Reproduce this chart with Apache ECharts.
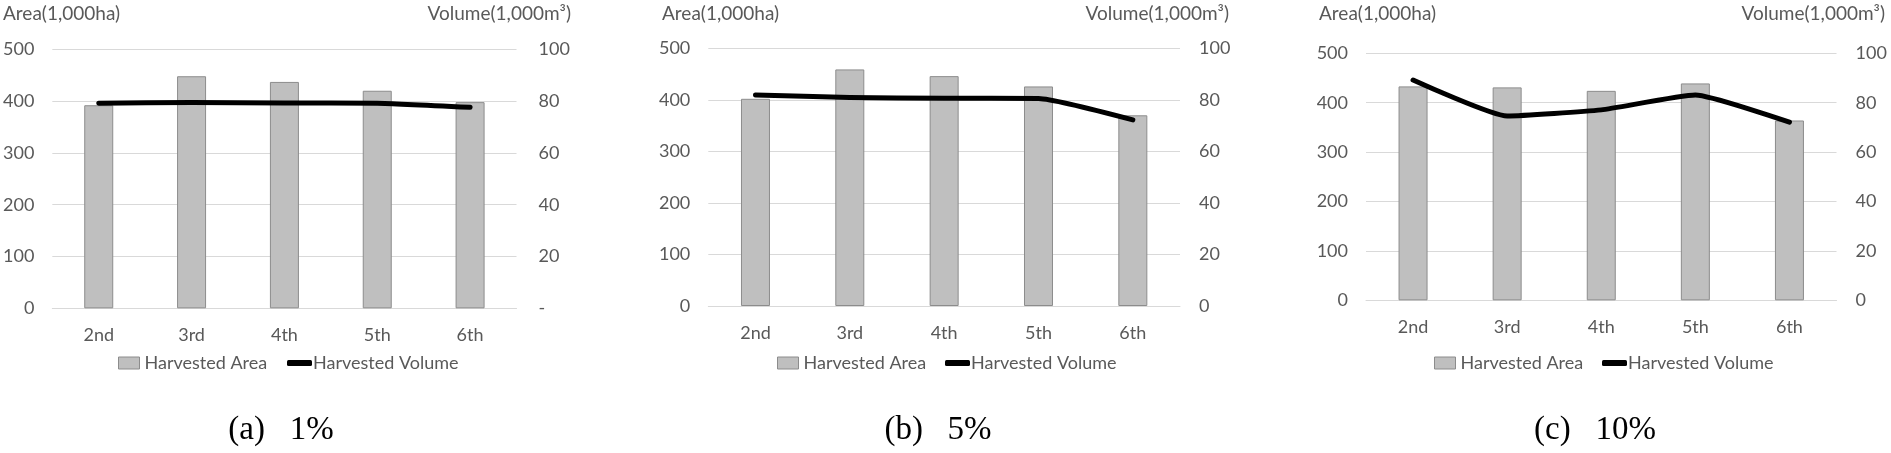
<!DOCTYPE html>
<html lang="en">
<head>
    <meta charset="UTF-8">
    <script src="https://cdn.jsdelivr.net/npm/echarts@6/dist/echarts.min.js"></script>
    <style>
        html, body { margin: 0; padding: 0; background: #fff; }
        #pic { width: 1891px; height: 453px; }
    </style>
    <title>Harvested area and volume</title>
</head>
<body>
<div id="pic"></div>
<script type="text/javascript">
    var categories = ['2nd', '3rd', '4th', '5th', '6th'];
    var areaTicks = [0, 100, 200, 300, 400, 500];
    var volumeTicks = [0, 20, 40, 60, 80, 100];

    // (a) 1%
    var areaA = [392, 448, 437, 420, 398];
    var volumeA = [79.2, 79.5, 79.3, 79.2, 77.6];
    // (b) 5%
    var areaB = [402, 459, 446, 426, 370];
    var volumeB = [81.9, 80.9, 80.6, 80.5, 72.2];
    // (c) 10%
    var areaC = [433, 431, 424, 439, 364];
    var volumeC = [89.2, 74.6, 77.1, 83.1, 72.1];

    var captions = ['(a)   1%', '(b)   5%', '(c)   10%'];
    var areaName = 'Area(1,000ha)';
    var volumeName = 'Volume(1,000m\u00b3)';
    var barName = 'Harvested Area';
    var lineName = 'Harvested Volume';

    var areas = [areaA, areaB, areaC];
    var volumes = [volumeA, volumeB, volumeC];

    // grid boxes
    var boxes = [
        {left: 51.5, top: 49.3, width: 465, height: 259, rightMargin: 22, areaX: 3, volRight: 571, legendX: 118, lineLegendX: 287, capX: 281},
        {left: 708.3, top: 48.3, width: 471.7, height: 257.7, rightMargin: 19, areaX: 662, volRight: 1229, legendX: 777, lineLegendX: 945, capX: 938},
        {left: 1366, top: 53.3, width: 470.5, height: 247, rightMargin: 19, areaX: 1319, volRight: 1885, legendX: 1434, lineLegendX: 1602, capX: 1595}
    ];

    var W = 1891;
    var txtColor = '#595959';
    var font = 'Lato';

    var grid = [], xAxis = [], yAxis = [], series = [], title = [], legend = [];

    boxes.forEach(function (b, i) {
        grid.push({left: b.left, top: b.top, width: b.width, height: b.height});
        xAxis.push({
            type: 'category',
            gridIndex: i,
            data: categories,
            axisLine: {lineStyle: {color: '#d9d9d9', width: 1}},
            axisTick: {show: false},
            axisLabel: {color: txtColor, fontFamily: font, fontSize: 18, margin: 18}
        });
        yAxis.push({
            type: 'value',
            gridIndex: i,
            min: areaTicks[0],
            max: areaTicks[areaTicks.length - 1],
            interval: areaTicks[1] - areaTicks[0],
            axisLine: {show: false},
            axisTick: {show: false},
            splitLine: {lineStyle: {color: '#d9d9d9', width: 1}},
            axisLabel: {color: txtColor, fontFamily: font, fontSize: 18, margin: 18}
        });
        yAxis.push({
            type: 'value',
            gridIndex: i,
            position: 'right',
            min: volumeTicks[0],
            max: volumeTicks[volumeTicks.length - 1],
            interval: volumeTicks[1] - volumeTicks[0],
            axisLine: {show: false},
            axisTick: {show: false},
            splitLine: {show: false},
            axisLabel: {
                color: txtColor, fontFamily: font, fontSize: 18, margin: b.rightMargin,
                formatter: function (v) {
                    if (i === 0 && v === 0) return '-';
                    return v;
                }
            }
        });
        series.push({
            name: barName,
            type: 'bar',
            xAxisIndex: i,
            yAxisIndex: i * 2,
            barWidth: 29,
            data: areas[i],
            itemStyle: {color: '#bfbfbf', borderColor: '#8c8c8c', borderWidth: 1}
        });
        series.push({
            name: lineName,
            type: 'line',
            xAxisIndex: i,
            yAxisIndex: i * 2 + 1,
            data: volumes[i],
            smooth: 0.15,
            symbol: 'none',
            lineStyle: {color: '#000', width: 5, cap: 'round', join: 'round'},
            itemStyle: {color: '#000'},
            z: 5
        });

        title.push({
            text: areaName, left: b.areaX, top: 4, padding: 0,
            textStyle: {color: txtColor, fontFamily: font, fontSize: 19, fontWeight: 'normal'}
        });
        title.push({
            text: volumeName, right: W - b.volRight, top: 4, padding: 0,
            textStyle: {color: txtColor, fontFamily: font, fontSize: 19, fontWeight: 'normal'}
        });
        title.push({
            text: captions[i], left: b.capX, top: 414, padding: 0, textAlign: 'center',
            textStyle: {color: '#000', fontFamily: 'Liberation Serif', fontSize: 33, fontWeight: 'normal'}
        });

        // bar and line keys sit in separate legends so each gets its own icon size
        legend.push({
            left: b.legendX,
            top: 354,
            padding: 0,
            itemWidth: 21,
            itemHeight: 12,
            data: [{name: barName, icon: 'rect', itemStyle: {color: '#bfbfbf', borderColor: '#8c8c8c', borderWidth: 1}}],
            textStyle: {color: txtColor, fontFamily: font, fontSize: 18}
        });
        legend.push({
            left: b.lineLegendX,
            top: 354,
            padding: 0,
            itemWidth: 25,
            itemHeight: 6,
            data: [{name: lineName, icon: 'roundRect', itemStyle: {color: '#000'}}],
            textStyle: {color: txtColor, fontFamily: font, fontSize: 18, padding: [0, 0, 0, -4]}
        });
    });

    var myChart = echarts.init(document.getElementById('pic'));
    var option = {
        animation: false,
        backgroundColor: '#fff',
        title: title,
        legend: legend,
        grid: grid,
        xAxis: xAxis,
        yAxis: yAxis,
        series: series
    };
    myChart.setOption(option);
</script>
</body>
</html>
